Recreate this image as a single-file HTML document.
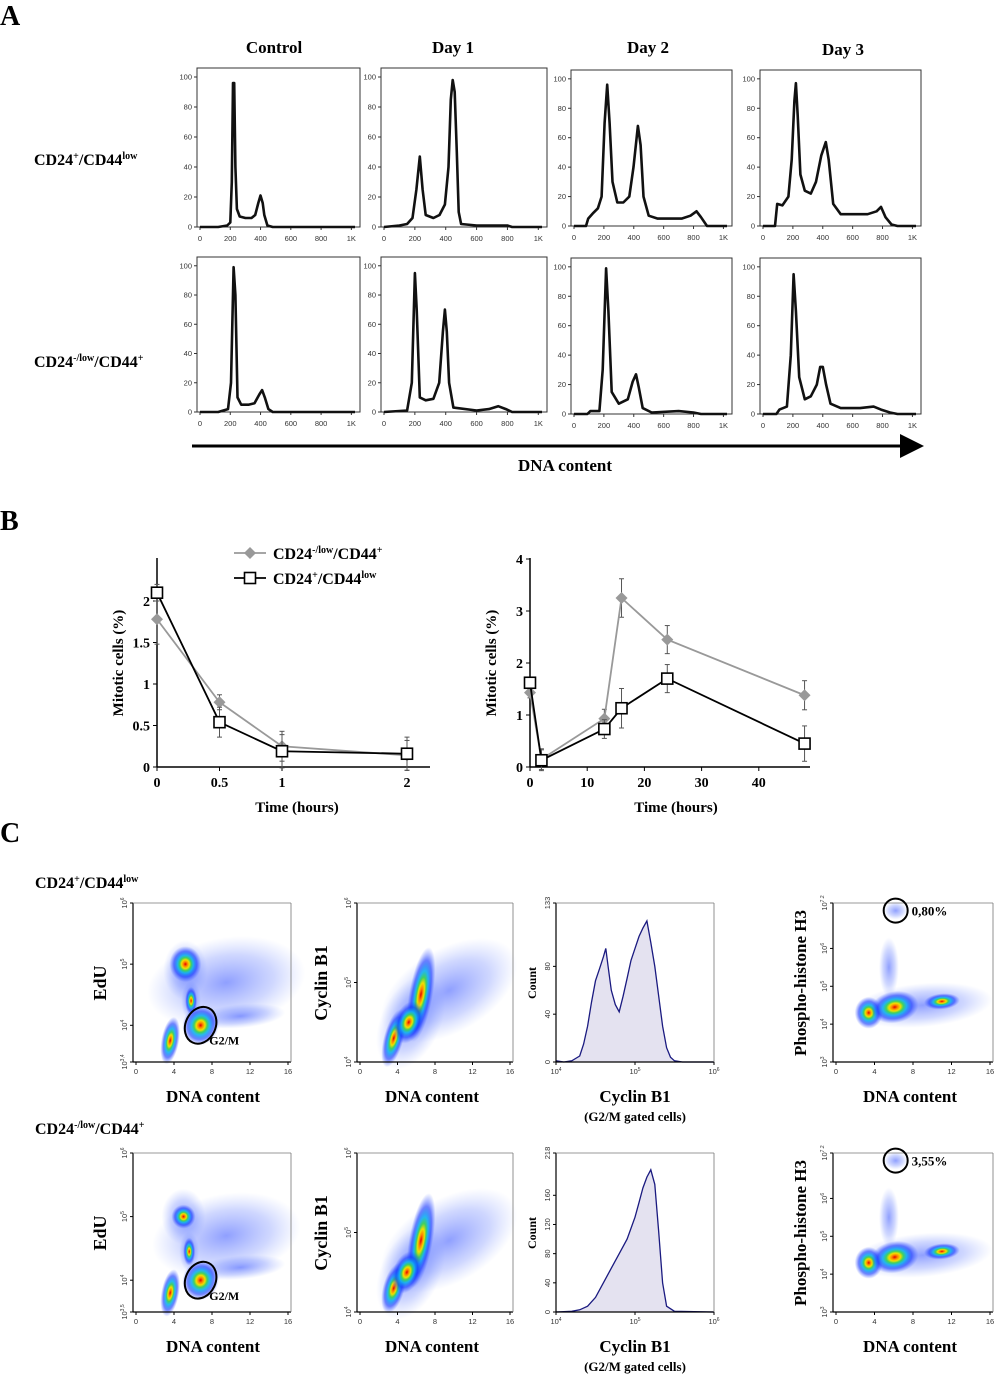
<!DOCTYPE html>
<html><head><meta charset="utf-8"><style>
html,body{margin:0;padding:0;background:#fff;}
svg{display:block;font-family:"Liberation Serif",serif;}
.tk{font-family:"Liberation Sans",sans-serif;font-size:7.5px;fill:#333;}
.bt{font-weight:bold;}
</style></head><body>
<svg id="fig" width="1000" height="1376" viewBox="0 0 1000 1376">
<defs>
<radialGradient id="heat"><stop offset="0" stop-color="#e00000"/><stop offset="0.12" stop-color="#ff8000"/><stop offset="0.24" stop-color="#f0e000"/><stop offset="0.36" stop-color="#40d060"/><stop offset="0.5" stop-color="#10b0f0" stop-opacity="0.9"/><stop offset="0.72" stop-color="#1030ff" stop-opacity="0.6"/><stop offset="1" stop-color="#3050ff" stop-opacity="0"/></radialGradient>
<radialGradient id="haze"><stop offset="0" stop-color="#2040ff" stop-opacity="0.5"/><stop offset="0.6" stop-color="#4060ff" stop-opacity="0.25"/><stop offset="1" stop-color="#6080ff" stop-opacity="0"/></radialGradient>
<marker id="arr" markerWidth="8" markerHeight="8" refX="6" refY="4" orient="auto"><path d="M0,0 L8,4 L0,8 z" fill="#000"/></marker>
</defs>
<g font-weight="bold" font-size="28">
<text x="0" y="25">A</text>
<text x="0" y="530">B</text>
<text x="0" y="842">C</text>
</g>
<g font-weight="bold" font-size="17" text-anchor="middle">
<text x="274" y="53">Control</text>
<text x="453" y="53">Day 1</text>
<text x="648" y="53">Day 2</text>
<text x="843" y="55">Day 3</text>
</g>
<text x="34" y="165" font-weight="bold" font-size="16">CD24<tspan font-size="10" dy="-6">+</tspan><tspan dy="6">/CD44</tspan><tspan font-size="10" dy="-6">low</tspan></text>
<text x="34" y="367" font-weight="bold" font-size="16">CD24<tspan font-size="10" dy="-6">-/low</tspan><tspan dy="6">/CD44</tspan><tspan font-size="10" dy="-6">+</tspan></text>
<line x1="192" y1="446" x2="918" y2="446" stroke="#000" stroke-width="3" marker-end="url(#arr)"/>
<text x="565" y="471" font-weight="bold" font-size="17" text-anchor="middle">DNA content</text>
<g id="panelA"></g>
<g id="panelB"></g>
<g id="panelC"></g>
</svg>
<script>
const NS="http://www.w3.org/2000/svg";
function mk(p,t,a){const e=document.createElementNS(NS,t);for(const k in a)e.setAttribute(k,a[k]);p.appendChild(e);return e;}

// ---------- Panel A data: DNA histograms [DNA value, % max] ----------
const histCtrlTop=[[0,0],[120,0],[180,1],[200,3],[210,30],[218,96],[226,96],[234,40],[244,12],[262,7],[300,6],[340,6],[365,8],[385,16],[400,21],[414,16],[425,8],[445,1],[480,0],[1024,0]];
const histDay1Top=[[0,0],[100,1],[150,2],[185,6],[210,25],[232,47],[250,25],[270,8],[320,6],[360,8],[395,15],[418,40],[433,85],[445,98],[458,90],[472,50],[484,10],[500,2],[600,1],[800,1],[830,0],[1024,0]];
const histDay2Top=[[0,0],[80,0],[95,5],[130,9],[160,12],[185,20],[205,70],[222,96],[238,70],[258,30],[290,16],[330,16],[370,20],[398,40],[428,68],[446,55],[465,20],[500,7],[560,5],[650,5],[720,5],[780,7],[820,10],[850,6],[890,0],[1024,0]];
const histDay3Top=[[0,0],[80,0],[95,15],[130,14],[170,20],[192,45],[210,85],[220,97],[232,75],[250,35],[280,24],[320,22],[355,30],[390,48],[420,57],[440,45],[470,15],[520,8],[600,8],[700,8],[760,10],[790,13],[820,6],[860,1],[900,0],[1024,0]];
const histCtrlBot=[[0,0],[120,0],[185,2],[205,20],[222,99],[234,80],[248,10],[272,5],[320,5],[360,6],[392,12],[410,15],[428,10],[452,2],[480,0],[1024,0]];
const histDay1Bot=[[0,0],[150,1],[180,20],[200,95],[212,70],[232,10],[270,8],[320,9],[358,20],[382,55],[395,70],[407,55],[422,20],[450,3],[600,1],[680,2],[740,4],[790,2],[830,0],[1024,0]];
const histDay2Bot=[[0,0],[90,0],[110,2],[170,2],[192,30],[215,99],[230,70],[252,15],[300,7],[360,10],[393,22],[415,27],[434,18],[460,4],[520,1],[700,2],[800,1],[850,0],[1024,0]];
const histDay3Bot=[[0,0],[90,0],[110,3],[160,5],[186,40],[205,95],[220,70],[242,25],[280,10],[320,12],[360,20],[383,32],[400,32],[422,20],[452,7],[520,4],[650,4],[740,5],[790,3],[850,1],[900,0],[1024,0]];
const histTicksX=[0,200,400,600,800,1000];
const histTickLabelsX=["0","200","400","600","800","1K"];
const histTicksY=[0,20,40,60,80,100];

const boxesA=[
 {d:histCtrlTop,l:197,r:360,t:68,b:227,n:"control-cd24pos"},
 {d:histDay1Top,l:381,r:547,t:68,b:227,n:"day1-cd24pos"},
 {d:histDay2Top,l:571,r:732,t:70,b:226,n:"day2-cd24pos"},
 {d:histDay3Top,l:760,r:921,t:70,b:226,n:"day3-cd24pos"},
 {d:histCtrlBot,l:197,r:360,t:257,b:412,n:"control-cd24low"},
 {d:histDay1Bot,l:381,r:547,t:257,b:412,n:"day1-cd24low"},
 {d:histDay2Bot,l:571,r:732,t:258,b:414,n:"day2-cd24low"},
 {d:histDay3Bot,l:760,r:921,t:258,b:414,n:"day3-cd24low"}];
const gA=document.getElementById("panelA");
boxesA.forEach(B=>{
 const g=mk(gA,"g",{});
 
 
 const X=v=>B.l+3+v/1024*(B.r-B.l-8), Y=v=>B.b-v/106*(B.b-B.t);
 mk(g,"rect",{x:B.l,y:B.t,width:B.r-B.l,height:B.b-B.t,fill:"none",stroke:"#333","stroke-width":1});
 histTicksY.forEach(v=>{mk(g,"line",{x1:B.l-3,x2:B.l,y1:Y(v),y2:Y(v),stroke:"#333"});
  const t=mk(g,"text",{x:B.l-5,y:Y(v)+2.5,"text-anchor":"end",class:"tk"});t.textContent=v;});
 histTicksX.forEach((v,i)=>{mk(g,"line",{x1:X(v),x2:X(v),y1:B.b,y2:B.b+3,stroke:"#333"});
  const t=mk(g,"text",{x:X(v),y:B.b+14,"text-anchor":"middle",class:"tk"});t.textContent=histTickLabelsX[i];});
 const p=mk(g,"path",{d:"M"+B.d.map(q=>X(q[0]).toFixed(1)+","+Y(q[1]).toFixed(1)).join("L"),fill:"none",stroke:"#111","stroke-width":2.6,"stroke-linejoin":"round"});
 
 
});

// ---------- Panel B data ----------
const shortTimes=[0,0.5,1,2];
const shortLow=[1.78,0.78,0.25,0.14];
const shortLowErr=[0.3,0.09,0.18,0.18];
const shortPos=[2.1,0.54,0.19,0.16];
const shortPosErr=[0.1,0.18,0.2,0.2];
const shortTicksX=[0,0.5,1,2];
const shortTicksY=[0,0.5,1,1.5,2];
const longTimes=[0,2,13,16,24,48];
const longLow=[1.43,0.15,0.93,3.25,2.45,1.38];
const longLowErr=[0.1,0.2,0.18,0.37,0.27,0.28];
const longPos=[1.62,0.13,0.73,1.13,1.7,0.45];
const longPosErr=[0.1,0.2,0.18,0.38,0.27,0.34];
const longTicksX=[0,10,20,30,40];
const longTicksY=[0,1,2,3,4];
const gB=document.getElementById("panelB");
function lineChart(cfg){
 const g=mk(gB,"g",{});
 
 
 const X=v=>cfg.x0+v*cfg.sx, Y=v=>cfg.y0-v*cfg.sy;
 mk(g,"line",{x1:cfg.x0,x2:cfg.x0,y1:cfg.y0,y2:cfg.top,stroke:"#000","stroke-width":1.5});
 mk(g,"line",{x1:cfg.x0,x2:cfg.right,y1:cfg.y0,y2:cfg.y0,stroke:"#000","stroke-width":1.5});
 cfg.ty.forEach(v=>{mk(g,"line",{x1:cfg.x0-4,x2:cfg.x0,y1:Y(v),y2:Y(v),stroke:"#000"});
  const t=mk(g,"text",{x:cfg.x0-7,y:Y(v)+5,"text-anchor":"end","font-size":14,"font-weight":"bold"});t.textContent=v;});
 cfg.tx.forEach(v=>{mk(g,"line",{x1:X(v),x2:X(v),y1:cfg.y0,y2:cfg.y0+4,stroke:"#000"});
  const t=mk(g,"text",{x:X(v),y:cfg.y0+20,"text-anchor":"middle","font-size":14,"font-weight":"bold"});t.textContent=v;});
 const xt=mk(g,"text",{x:cfg.xtx,y:cfg.y0+45,"text-anchor":"middle","font-size":15,"font-weight":"bold"});xt.textContent="Time (hours)";
 const yt=mk(g,"text",{transform:`translate(${cfg.x0-34},${cfg.y0-104}) rotate(-90)`,"text-anchor":"middle","font-size":15,"font-weight":"bold"});yt.textContent="Mitotic cells (%)";
 [[cfg.low,cfg.lowE,"#999","low"],[cfg.pos,cfg.posE,"#000","pos"]].forEach(([vals,err,col,k])=>{
  const s=mk(g,"g",{});
  
  
  cfg.t.forEach((t,i)=>{mk(s,"line",{x1:X(t),x2:X(t),y1:Y(vals[i]-err[i]),y2:Y(vals[i]+err[i]),stroke:"#555","stroke-width":1});
   [-1,1].forEach(sg=>mk(s,"line",{x1:X(t)-2.5,x2:X(t)+2.5,y1:Y(vals[i]+sg*err[i]),y2:Y(vals[i]+sg*err[i]),stroke:"#555"}));});
  mk(s,"polyline",{points:cfg.t.map((t,i)=>X(t)+","+Y(vals[i])).join(" "),fill:"none",stroke:col,"stroke-width":1.8});
  cfg.t.forEach((t,i)=>{const x=X(t),y=Y(vals[i]);
   if(k=="low") mk(s,"path",{d:`M${x},${y-6}L${x+6},${y}L${x},${y+6}L${x-6},${y}z`,fill:"#999"});
   else mk(s,"rect",{x:x-5.5,y:y-5.5,width:11,height:11,fill:"#fff",stroke:"#000","stroke-width":1.6});});
 });
}
lineChart({name:"mitotic-short-chart",x0:157,y0:767,sx:125,sy:83,top:558,right:430,t:shortTimes,low:shortLow,lowE:shortLowErr,pos:shortPos,posE:shortPosErr,tx:shortTicksX,ty:shortTicksY,xtx:297});
lineChart({name:"mitotic-long-chart",x0:530,y0:767,sx:5.72,sy:52,top:558,right:810,t:longTimes,low:longLow,lowE:longLowErr,pos:longPos,posE:longPosErr,tx:longTicksX,ty:longTicksY,xtx:676});
(function(){const g=mk(gB,"g",{});
 
 
 mk(g,"line",{x1:234,x2:266,y1:553,y2:553,stroke:"#999","stroke-width":1.8});
 mk(g,"path",{d:"M250,547L256,553L250,559L244,553z",fill:"#999"});
 const t1=mk(g,"text",{x:273,y:559,"font-size":16,"font-weight":"bold"});t1.innerHTML='CD24<tspan font-size="10" dy="-6">-/low</tspan><tspan dy="6">/CD44</tspan><tspan font-size="10" dy="-6">+</tspan>';
 mk(g,"line",{x1:234,x2:266,y1:578,y2:578,stroke:"#000","stroke-width":1.8});
 mk(g,"rect",{x:244.5,y:572.5,width:11,height:11,fill:"#fff",stroke:"#000","stroke-width":1.6});
 const t2=mk(g,"text",{x:273,y:584,"font-size":16,"font-weight":"bold"});t2.innerHTML='CD24<tspan font-size="10" dy="-6">+</tspan><tspan dy="6">/CD44</tspan><tspan font-size="10" dy="-6">low</tspan>';
})();

// ---------- Panel C ----------
const cycX=[4.0,4.1,4.2,4.3,4.35,4.4,4.45,4.5,4.55,4.6,4.63,4.66,4.7,4.75,4.8,4.85,4.9,4.95,5.0,5.05,5.1,5.15,5.2,5.25,5.3,5.35,5.4,5.45,5.5,5.6,6.0];
const cycTop=[1,0,1,5,15,30,50,68,78,88,95,80,60,48,42,55,70,85,95,105,112,118,100,80,55,30,12,4,1,0,0];
const cycXB=[4.0,4.2,4.3,4.4,4.5,4.6,4.7,4.8,4.9,5.0,5.05,5.1,5.15,5.2,5.25,5.3,5.35,5.4,5.5,6.0];
const cycBot=[0,1,3,8,20,40,60,80,100,130,150,170,185,195,175,110,40,8,1,0];

const gC=document.getElementById("panelC");
function txt(p,x,y,s,opt){const t=mk(p,"text",Object.assign({x:x,y:y},opt||{}));t.innerHTML=s;return t;}
txt(gC,35,888,'CD24<tspan font-size="10" dy="-6">+</tspan><tspan dy="6">/CD44</tspan><tspan font-size="10" dy="-6">low</tspan>',{"font-size":16,"font-weight":"bold"});
txt(gC,35,1134,'CD24<tspan font-size="10" dy="-6">-/low</tspan><tspan dy="6">/CD44</tspan><tspan font-size="10" dy="-6">+</tspan>',{"font-size":16,"font-weight":"bold"});

function frame(g,l,t,r,b){mk(g,"line",{x1:l,x2:l,y1:t,y2:b,stroke:"#000","stroke-width":1.2});mk(g,"line",{x1:l,x2:r,y1:b,y2:b,stroke:"#000","stroke-width":1.2});
 mk(g,"line",{x1:l,x2:r,y1:t,y2:t,stroke:"#777","stroke-width":0.8});mk(g,"line",{x1:r,x2:r,y1:t,y2:b,stroke:"#777","stroke-width":0.8});}
function yLabel(g,x,y,s,fs){const t=mk(g,"text",{transform:`translate(${x},${y}) rotate(-90)`,"text-anchor":"middle","font-size":fs,"font-weight":"bold"});t.textContent=s;}
function dnaTicks(g,l,r,b){[0,4,8,12,16].forEach(v=>{const x=l+3+v/16*(r-l-6);mk(g,"line",{x1:x,x2:x,y1:b,y2:b+3,stroke:"#000"});
 const t=mk(g,"text",{x:x,y:b+12,"text-anchor":"middle",class:"tk"});t.textContent=v;});}
function logTick(g,x,y,exp){const t=mk(g,"text",{transform:`translate(${x},${y}) rotate(-90)`,"text-anchor":"middle",class:"tk"});t.innerHTML='10<tspan font-size="5" dy="-3">'+exp+'</tspan>';}
function blob(g,X,Y,c,grad){mk(g,"ellipse",{cx:X(c[0]),cy:Y(c[1]),rx:c[2],ry:c[3],transform:`rotate(${c[4]},${X(c[0])},${Y(c[1])})`,fill:`url(#${grad})`});}

// density clusters: [dna, log10 value, rx, ry, rotation]
const eduHazeTop=[[9.5,4.7,80,45,-10],[5.2,4.9,22,30,0],[11,4.15,45,12,-5],[5.8,4.4,10,20,0]];
const eduHeatTop=[[3.6,3.75,9,24,10],[5.2,5.0,16,18,0],[6.8,4.0,18,20,20],[5.8,4.4,6,14,0]];
const cycHazeTop=[[9.5,4.9,75,42,-30],[5.4,4.5,30,50,25]];
const cycHeatTop=[[3.6,4.3,10,30,15],[6.5,4.85,12,48,10],[5.2,4.5,14,22,20]];
const phHaze=[[9,4.5,70,22,-5],[6.2,7.0,12,9,0],[5.5,5.5,10,30,0]];
const phHeat=[[3.4,4.3,14,16,0],[6.1,4.45,24,16,-10],[11,4.6,18,8,-5]];
function scatterPanel(g,l,t,r,b,ymin,ymax,yTicks,yLab,haze,heat,name){
 const sg=mk(g,"g",{});
 
 
 const X=v=>l+3+v/16*(r-l-6), Y=v=>b-(v-ymin)/(ymax-ymin)*(b-t);
 haze.forEach(c=>blob(sg,X,Y,c,"haze"));
 heat.forEach(c=>blob(sg,X,Y,c,"heat"));
 frame(sg,l,t,r,b);dnaTicks(sg,l,r,b);
 yTicks.forEach(([v,lab])=>{mk(sg,"line",{x1:l-3,x2:l,y1:Y(v),y2:Y(v),stroke:"#000"});logTick(sg,l-6,Y(v),lab);});
 return {X,Y,g:sg};
}
function countPanel(g,l,t,r,b,xs,ys,ymax,yt,name){
 const sg=mk(g,"g",{});
 
 
 const X=v=>l+(v-4)/2*(r-l), Y=v=>b-v/ymax*(b-t);
 const pts=xs.map((x,i)=>X(x).toFixed(1)+","+Y(ys[i]).toFixed(1));
 mk(sg,"path",{d:"M"+X(xs[0])+","+b+"L"+pts.join("L")+"L"+X(xs[xs.length-1])+","+b+"z",fill:"#e4e2f0"});
 const ln=mk(sg,"path",{d:"M"+pts.join("L"),fill:"none",stroke:"#1a1a80","stroke-width":1.3});
 
 
 frame(sg,l,t,r,b);
 yt.forEach(v=>{mk(sg,"line",{x1:l-3,x2:l,y1:Y(v),y2:Y(v),stroke:"#000"});const tt=mk(sg,"text",{transform:`translate(${l-6},${Y(v)}) rotate(-90)`,"text-anchor":"middle",class:"tk"});tt.textContent=v;});
 [4,5,6].forEach(e=>{mk(sg,"line",{x1:X(e),x2:X(e),y1:b,y2:b+3,stroke:"#000"});const tt=mk(sg,"text",{x:X(e),y:b+12,"text-anchor":"middle",class:"tk"});tt.innerHTML='10<tspan font-size="5" dy="-3">'+e+'</tspan>';});
}
function row(dy,eduMin,eduLab,hz,ht,chz,cht,cxs,cys,cmax,cyt,pct,tag){
 const b=1062+dy,t=903+dy;
 const e=scatterPanel(gC,133,t,291,b,eduMin,6,[[eduMin,eduLab],[4,4],[5,5],[6,6]],"EdU",hz,ht,"edu-scatter-"+tag);
 mk(e.g,"ellipse",{cx:e.X(6.8),cy:e.Y(4.0),rx:15,ry:19,transform:`rotate(25,${e.X(6.8)},${e.Y(4.0)})`,fill:"none",stroke:"#000","stroke-width":2});
 txt(e.g,e.X(7.5)+2,e.Y(3.75)+4,"G2/M",{"font-size":12,"font-weight":"bold"});
 yLabel(gC,106,t+80,"EdU",18);
 txt(gC,213,b+40,"DNA content",{"font-size":17,"font-weight":"bold","text-anchor":"middle"});
 scatterPanel(gC,357,t,513,b,4,6,[[4,4],[5,5],[6,6]],"Cyclin B1",chz,cht,"cyclin-scatter-"+tag);
 yLabel(gC,327,t+80,"Cyclin B1",18);
 txt(gC,432,b+40,"DNA content",{"font-size":17,"font-weight":"bold","text-anchor":"middle"});
 countPanel(gC,556,t,714,b,cxs,cys,cmax,cyt,"cyclin-count-histogram-"+tag);
 yLabel(gC,536,t+80,"Count",12);
 txt(gC,635,b+40,"Cyclin B1",{"font-size":17,"font-weight":"bold","text-anchor":"middle"});
 txt(gC,635,b+59,"(G2/M gated cells)",{"font-size":13,"font-weight":"bold","text-anchor":"middle"});
 const p=scatterPanel(gC,833,t,993,b,3,7.2,[[3,3],[4,4],[5,5],[6,6],[7.2,7.2]],"Phospho-histone H3",phHaze,phHeat,"ph3-scatter-"+tag);
 mk(p.g,"circle",{cx:p.X(6.2),cy:p.Y(7.0),r:12,fill:"none",stroke:"#000","stroke-width":2});
 txt(p.g,p.X(6.2)+16,p.Y(7.0)+5,pct,{"font-size":13,"font-weight":"bold"});
 yLabel(gC,806,t+80,"Phospho-histone H3",17);
 txt(gC,910,b+40,"DNA content",{"font-size":17,"font-weight":"bold","text-anchor":"middle"});
}
row(0,3.4,"3,4",eduHazeTop,eduHeatTop,cycHazeTop,cycHeatTop,cycX,cycTop,133,[0,40,80,133],"0,80%","cd24pos");
const eduHazeBot=[[9.5,4.7,75,42,-10],[5.0,5.0,22,28,0],[11,4.2,45,12,-5],[5.6,4.45,10,20,0]];
const eduHeatBot=[[3.6,3.8,9,24,10],[5.0,5.0,12,12,0],[6.8,4.0,18,20,20],[5.6,4.45,6,14,0]];
const cycHeatBot=[[3.6,4.3,11,26,15],[6.5,4.9,12,48,10],[5.0,4.5,14,22,20]];
row(250,3.5,"3,5",eduHazeBot,eduHeatBot,cycHazeTop,cycHeatBot,cycXB,cycBot,218,[0,40,80,120,160,218],"3,55%","cd24low");
</script>
</body></html>
